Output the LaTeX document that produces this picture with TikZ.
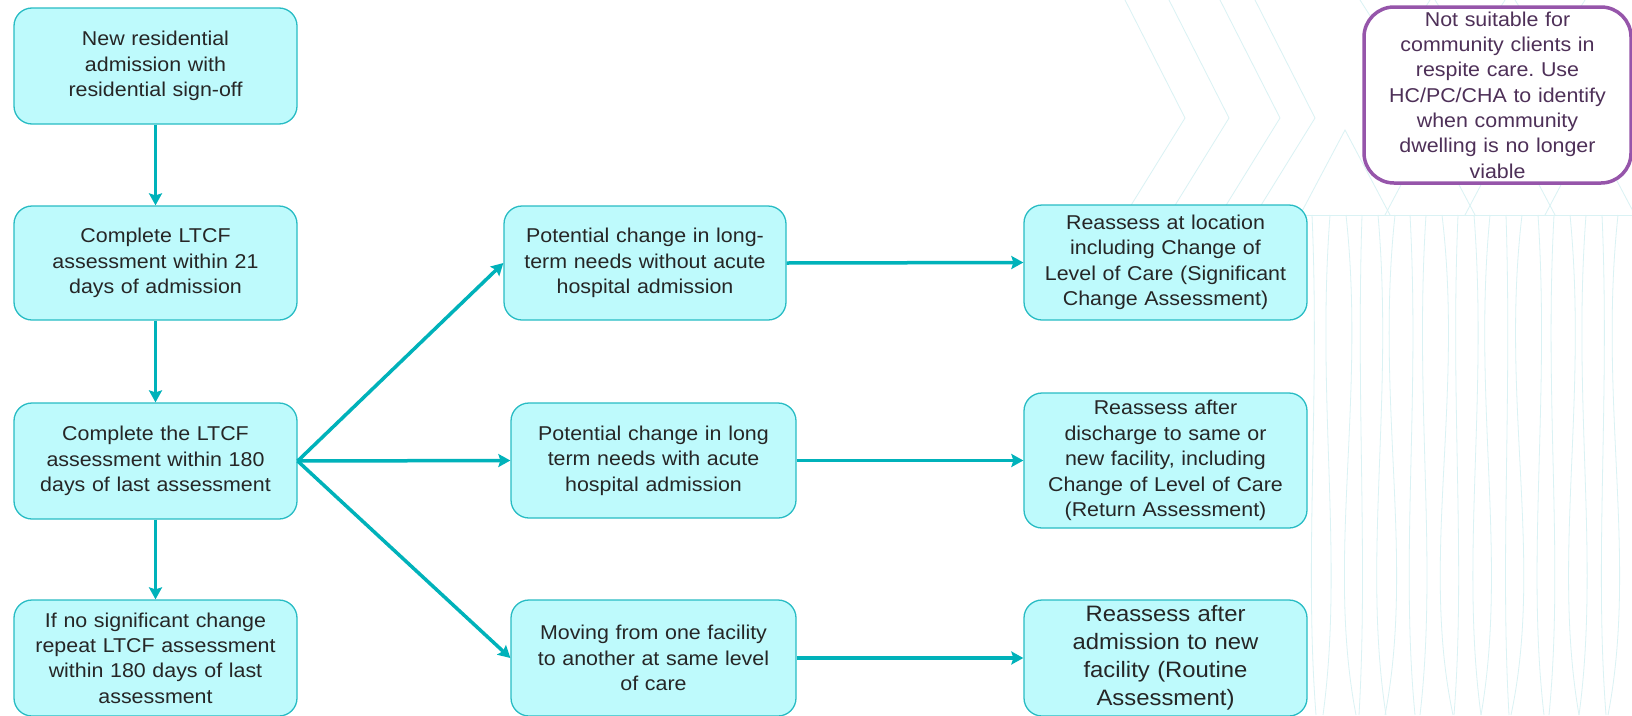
\documentclass[tikz,border=0pt]{standalone}
\usepackage{fontspec}
\setmainfont{Liberation Sans}[FakeStretch=1.07]
\usetikzlibrary{arrows.meta, positioning}
\usepackage{xcolor}
\definecolor{boxfill}{RGB}{190,250,252}
\definecolor{boxline}{RGB}{40,188,196}
\definecolor{arrcol}{RGB}{0,178,186}
\definecolor{notecol}{RGB}{150,85,170}
\definecolor{notetext}{RGB}{78,48,88}
\definecolor{bgcol}{RGB}{218,242,244}
\frenchspacing

\begin{document}
\begin{tikzpicture}[x=1pt,y=-1pt,
  box/.style={draw=boxline,line width=1.3pt,rounded corners=18pt,fill=boxfill,
              text=black!85,text width=268pt,inner xsep=7pt,inner ysep=0pt,
              align=center,font=\fontsize{20}{25.4}\selectfont,
              minimum width=283pt,minimum height=116pt},
  note/.style={draw=notecol,line width=3.5pt,rounded corners=30pt,fill=white,
               text=notetext,text width=258pt,inner xsep=4pt,inner ysep=0pt,
               align=center,font=\fontsize{20}{25.3}\selectfont,
               minimum width=267pt,minimum height=176pt},
  arr/.style={-{Stealth[length=12pt,width=13pt,inset=2pt]},arrcol,line width=3.5pt},
  bg/.style={bgcol,line width=0.8pt}
]
\clip (0,0) rectangle (1632,715);
\fill[white] (0,0) rectangle (1632,715);

% faint background pattern
\foreach \cx in {1185,1229,1280,1315}
  \draw[bg] (\cx-60,0) -- (\cx,118) -- (\cx-60,215);
\foreach \tx in {1345,1430,1510,1590}
  \draw[bg] (\tx-45,215) -- (\tx,130) -- (\tx+45,215);
\foreach \tx in {1395,1470,1550}
  \draw[bg] (\tx-35,0) -- (\tx,55) -- (\tx+35,0);
\draw[bg] (1300,215) -- (1632,215);
\foreach \vx/\dx in {1312/8,1330/-14,1346/20,1362/-6,1378/16,1395/-20,1410/10,1426/-12,
                     1442/22,1458/-8,1474/14,1490/-18,1506/6,1522/-22,1538/12,1554/-10,
                     1570/18,1586/-14,1602/8,1618/-20}
  \draw[bg] (\vx,215) .. controls (\vx+\dx,400) and (\vx-\dx,560) .. (\vx+\dx/2,715);

% left column
\node[box] (admit) at (155.5,66) {New residential\\admission with\\residential sign-off};
\node[box,minimum height=114pt] (first) at (155.5,263) {Complete LTCF\\assessment within 21\\days of admission};
\node[box] (review) at (155.5,461) {Complete the LTCF\\assessment within 180\\days of last assessment};
\node[box] (repeat) at (155.5,658) {If no significant change\\repeat LTCF assessment\\within 180 days of last\\assessment};

% middle column
\node[box,minimum width=282pt,minimum height=114pt] (nohosp) at (645,263) {Potential change in long-\\term needs without acute\\hospital admission};
\node[box,minimum width=285pt,minimum height=115pt] (hosp) at (653.5,460.5) {Potential change in long\\term needs with acute\\hospital admission};
\node[box,minimum width=285pt] (move) at (653.5,658) {Moving from one facility\\to another at same level\\of care};

% right column
\node[box,minimum height=115pt] (signif) at (1165.5,262.5) {Reassess at location\\including Change of\\Level of Care (Significant\\Change Assessment)};
\node[box,minimum height=135pt] (return) at (1165.5,460.5) {Reassess after\\discharge to same or\\new facility, including\\Change of Level of Care\\(Return Assessment)};
\node[box,font=\fontsize{22.3}{28}\selectfont] (routine) at (1165.5,658) {Reassess after\\admission to new\\facility (Routine\\Assessment)};

% note
\node[note] (respite) at (1497.5,95) {Not suitable for\\community clients in\\respite care. Use\\HC/PC/CHA to identify\\when community\\dwelling is no longer\\viable};

\draw[arr] (admit) -- (first);
\draw[arr] (first) -- (review);
\draw[arr] (review) -- (repeat);
\draw[arr] (review.east) -- (nohosp.west);
\draw[arr] (review.east) -- (hosp.west);
\draw[arr] (review.east) -- (move.west);
\draw[arr] (nohosp.east) -- (signif.west);
\draw[arr] (hosp.east) -- (return.west);
\draw[arr] (move.east) -- (routine.west);
\end{tikzpicture}
\end{document}
